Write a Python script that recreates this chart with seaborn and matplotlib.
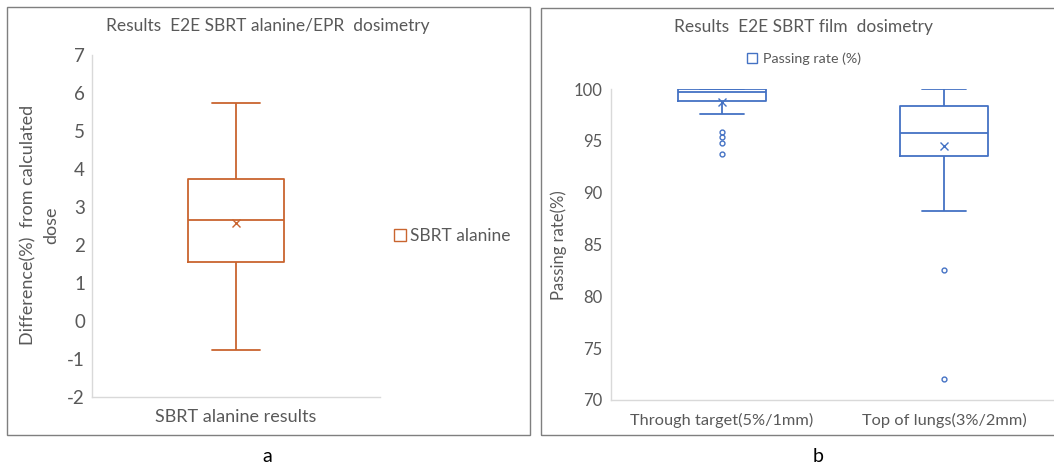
import numpy as np
import pandas as pd
import seaborn as sns
import matplotlib.pyplot as plt
from matplotlib.lines import Line2D
from matplotlib.patches import Rectangle

# valores (muestras que reproducen los cuartiles del grafico)
alanine_vals = [-0.75, 1.55, 2.65, 3.75, 5.75]

target_vals = [93.72, 94.79, 95.33, 95.85, 97.6, 98.8, 99.6, 99.6, 99.6, 99.6, 99.7,
               100, 100, 100, 100, 100, 100, 100, 100, 100, 100]
lungs_vals = [72.06, 82.5, 88.25, 90, 92, 93, 93.56, 94, 94.2, 94.5, 95, 95.5, 95.8,
              96.5, 97, 97.5, 98, 98.2, 98.37, 98.8, 99.2, 99.5, 99.8, 100, 100]

cat_left = "SBRT alanine results"
cats_right = ["Through target(5%/1mm)", "Top of lungs(3%/2mm)"]

orange = "#C9652F"
blue = "#4472C4"
txt = "#595959"
axc = "#D9D9D9"

sns.set_style("white")
plt.rcParams['font.family'] = ['Lato', 'DejaVu Sans']
plt.rcParams['text.color'] = txt
plt.rcParams['axes.unicode_minus'] = False

fig = plt.figure(figsize=(10.54, 4.68), dpi=100)
W, H = 1054, 468

# marcos de los paneles
fig.patches.append(Rectangle((7 / W, 1 - 435 / H), (530 - 7) / W, (435 - 7) / H,
                             transform=fig.transFigure, fill=False, edgecolor="#7F7F7F", lw=1))
fig.patches.append(Rectangle((541 / W, 1 - 435 / H), (1060 - 541) / W, (435 - 8) / H,
                             transform=fig.transFigure, fill=False, edgecolor="#7F7F7F", lw=1))


def estilo(ax):
    for s in ["top", "right"]:
        ax.spines[s].set_visible(False)
    for s in ["left", "bottom"]:
        ax.spines[s].set_color(axc)
        ax.spines[s].set_linewidth(1)
    ax.tick_params(length=0, colors=txt)


# --- panel a ---
ax1 = fig.add_axes([92 / W, 1 - 397 / H, 288 / W, 342 / H])
df1 = pd.DataFrame({"cat": [cat_left] * len(alanine_vals), "val": alanine_vals})
sns.boxplot(data=df1, x="cat", y="val", ax=ax1, fill=False, color=orange, width=0.333,
            linewidth=1.3, showmeans=True,
            meanprops=dict(marker="x", markeredgecolor=orange, markersize=6),
            flierprops=dict(marker="o", markersize=3.5, markerfacecolor="none",
                            markeredgecolor=orange))
ax1.set_ylim(-2, 7)
ax1.set_xlim(-0.5, 0.5)
ax1.set_yticks(range(-2, 8))
estilo(ax1)
ax1.tick_params(axis="y", labelsize=13.5, pad=5)
ax1.tick_params(axis="x", labelsize=13, pad=9)
ax1.set_xlabel("")
ax1.set_ylabel("")
fig.text(40 / W, 1 - 225 / H, "Difference(%)  from calculated\ndose", fontsize=13,
         rotation=90, ha="center", va="center", multialignment="center", linespacing=1.5)
fig.text(268 / W, 1 - 26 / H, "Results  E2E SBRT alanine/EPR  dosimetry", fontsize=12.5,
         ha="center", va="center")
h1 = Line2D([], [], marker="s", linestyle="none", markerfacecolor="none",
            markeredgecolor=orange, markersize=8)
ax1.legend([h1], ["SBRT alanine"], loc="center left", bbox_to_anchor=(0.985, 0.47),
           frameon=False, fontsize=12.5, handletextpad=0.1, handlelength=1)

# --- panel b ---
ax2 = fig.add_axes([611 / W, 1 - 400 / H, 444 / W, 311 / H])
df2 = pd.DataFrame({
    "cat": [cats_right[0]] * len(target_vals) + [cats_right[1]] * len(lungs_vals),
    "val": target_vals + lungs_vals,
})
sns.boxplot(data=df2, x="cat", y="val", ax=ax2, fill=False, color=blue, width=0.4,
            linewidth=1.3, showmeans=True,
            meanprops=dict(marker="x", markeredgecolor=blue, markersize=6),
            flierprops=dict(marker="o", markersize=3.5, markerfacecolor="none",
                            markeredgecolor=blue))
ax2.set_ylim(70, 100)
ax2.set_xlim(-0.5, 1.5)
ax2.set_yticks(range(70, 101, 5))
estilo(ax2)
ax2.tick_params(axis="y", labelsize=12, pad=6)
ax2.tick_params(axis="x", labelsize=11.8, pad=9)
ax2.set_xlabel("")
ax2.set_ylabel("")
fig.text(559 / W, 1 - 245 / H, "Passing rate(%)", fontsize=12, rotation=90,
         ha="center", va="center")
fig.text(803 / W, 1 - 27 / H, "Results  E2E SBRT film  dosimetry", fontsize=12.5,
         ha="center", va="center")
h2 = Line2D([], [], marker="s", linestyle="none", markerfacecolor="none",
            markeredgecolor=blue, markersize=7)
fig.legend([h2], ["Passing rate (%)"], loc="center", bbox_to_anchor=(803 / W, 1 - 59 / H),
           frameon=False, fontsize=10.3, handletextpad=0.3, handlelength=1)

fig.text(267 / W, 1 - 457 / H, "a", fontsize=14, color="black", ha="center", va="center")
fig.text(818 / W, 1 - 457 / H, "b", fontsize=14, color="black", ha="center", va="center")

plt.savefig("out.png", dpi=100)
